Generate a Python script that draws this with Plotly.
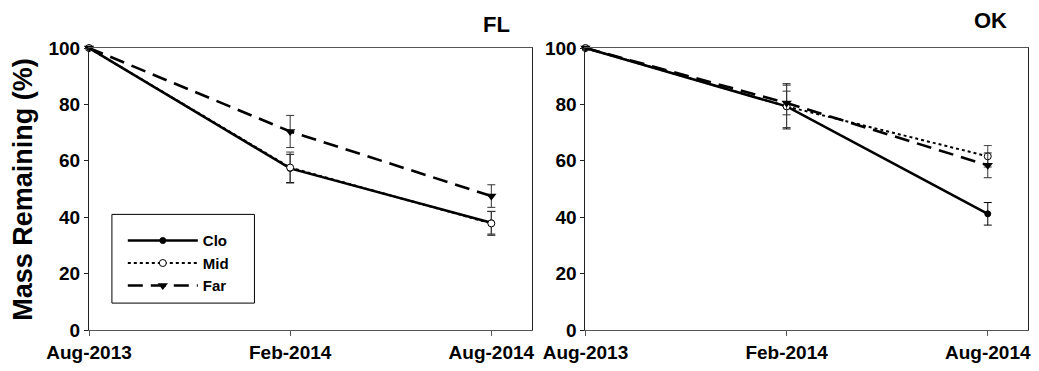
import plotly.graph_objects as go
from plotly.subplots import make_subplots

# Sampling dates (category axis labels)
dates = ["Aug-2013", "Feb-2014", "Aug-2014"]
series_names = ["Clo", "Mid", "Far"]

# Florida site: mass remaining (%) and standard errors
fl_clo = [100, 57.3, 38.0]
fl_clo_se = [0, 5.0, 4.0]
fl_mid = [100, 57.6, 37.8]
fl_mid_se = [0, 5.5, 4.3]
fl_far = [100, 70.4, 47.5]
fl_far_se = [0, 5.7, 4.0]

# Oklahoma site: mass remaining (%) and standard errors
ok_clo = [100, 79.3, 41.2]
ok_clo_se = [0, 8.0, 4.0]
ok_mid = [100, 79.3, 61.6]
ok_mid_se = [0, 7.5, 3.8]
ok_far = [100, 80.5, 58.4]
ok_far_se = [0, 4.2, 4.4]

FONT = "Liberation Sans"

styles = {
    "Clo": dict(line=dict(color="black", width=2.6, dash="solid"),
                marker=dict(symbol="circle", size=6, color="black",
                            line=dict(color="black", width=1)),
                err="black"),
    "Mid": dict(line=dict(color="black", width=2, dash="dot"),
                marker=dict(symbol="circle", size=7, color="white",
                            line=dict(color="black", width=1)),
                err="#444444"),
    "Far": dict(line=dict(color="black", width=2.6, dash="15px,8px"),
                marker=dict(symbol="triangle-down", size=9, color="black",
                            line=dict(color="black", width=0)),
                err="#333333"),
}

fig = make_subplots(rows=1, cols=2, horizontal_spacing=0.0574)

panels = [
    (1, {"Clo": (fl_clo, fl_clo_se), "Mid": (fl_mid, fl_mid_se), "Far": (fl_far, fl_far_se)}),
    (2, {"Clo": (ok_clo, ok_clo_se), "Mid": (ok_mid, ok_mid_se), "Far": (ok_far, ok_far_se)}),
]

for col, data in panels:
    for name in series_names:
        vals, se = data[name]
        st = styles[name]
        fig.add_trace(
            go.Scatter(
                x=dates, y=vals, name=name, mode="lines+markers",
                line=st["line"], marker=st["marker"],
                error_y=dict(type="data", array=se, visible=True,
                             color=st["err"], thickness=1, width=4),
                cliponaxis=False,
                showlegend=(col == 1),
            ),
            row=1, col=col,
        )

tick_font = dict(family=FONT, size=19, color="black", weight="bold")

for col in (1, 2):
    fig.update_xaxes(
        type="category", range=[0, 2.2],
        tickvals=dates, ticktext=dates,
        showline=True, linecolor="#555555", linewidth=1, mirror=True,
        ticks="outside", ticklen=5, tickcolor="#555555",
        showgrid=False, zeroline=False, tickfont=tick_font,
        row=1, col=col,
    )
    fig.update_yaxes(
        range=[0, 100], tickvals=[0, 20, 40, 60, 80, 100],
        showline=True, linecolor="#222222", linewidth=1, mirror=True,
        ticks="outside", ticklen=4, tickcolor="#222222",
        showgrid=False, zeroline=False, tickfont=tick_font,
        row=1, col=col,
    )

# Shared y-axis title
fig.add_annotation(
    text="Mass Remaining (%)", textangle=-90,
    x=-0.0706, y=0.5, xref="paper", yref="paper",
    xanchor="center", yanchor="middle", showarrow=False,
    font=dict(family=FONT, size=27, color="black", weight="bold"),
)

# Panel labels
for label, xpos, ypos in [("FL", 0.4342, 1.083), ("OK", 0.9597, 1.099)]:
    fig.add_annotation(
        text=label, x=xpos, y=ypos, xref="paper", yref="paper",
        xanchor="center", yanchor="middle", showarrow=False,
        font=dict(family=FONT, size=22, color="black", weight="bold"),
    )

# Legend frame
fig.add_shape(
    type="rect", xref="paper", yref="paper",
    x0=0.0244, x1=0.1762, y0=0.0954, y1=0.41,
    line=dict(color="black", width=1), fillcolor="rgba(0,0,0,0)",
)

fig.update_layout(
    width=1039, height=371,
    margin=dict(l=89, r=8, t=48, b=40),
    plot_bgcolor="white", paper_bgcolor="white",
    font=dict(family=FONT, color="black"),
    legend=dict(
        x=0.036, y=0.375, xanchor="left", yanchor="top",
        bgcolor="rgba(0,0,0,0)", borderwidth=0,
        font=dict(family=FONT, size=15, color="black", weight="bold"),
        itemwidth=70, tracegroupgap=0,
    ),
)

fig.write_html("out.html")
